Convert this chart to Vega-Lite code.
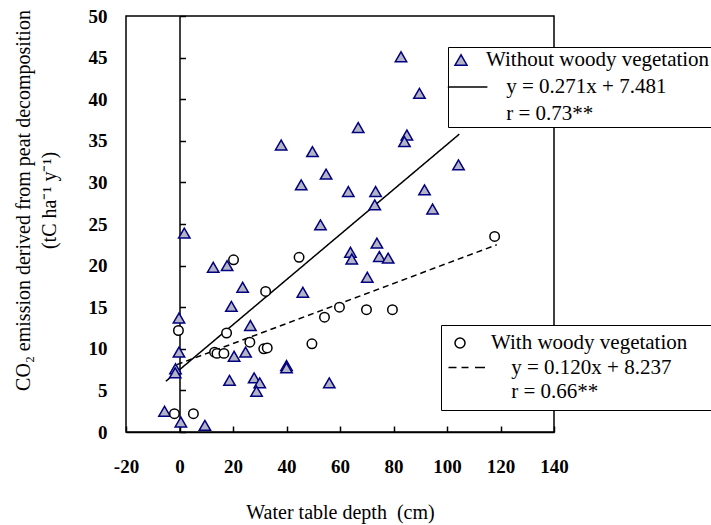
{
  "$schema": "https://vega.github.io/schema/vega-lite/v6.json",
  "width": 428,
  "height": 416,
  "autosize": {"type": "none"},
  "padding": {"left": 126, "top": 16, "right": 157, "bottom": 93},
  "background": "white",
  "config": {
    "font": "Liberation Serif",
    "view": {"stroke": "black", "strokeWidth": 1.5},
    "axis": {
      "grid": false,
      "domainColor": "black",
      "domainWidth": 1.5,
      "tickColor": "black",
      "tickWidth": 1.5,
      "labelFont": "Liberation Serif",
      "labelFontSize": 19,
      "labelFontWeight": "bold",
      "labelColor": "black",
      "titleFont": "Liberation Serif",
      "titleFontSize": 20,
      "titleFontWeight": "normal",
      "titleColor": "black"
    },
    "legend": {
      "labelFont": "Liberation Serif",
      "labelFontSize": 21,
      "labelColor": "black",
      "labelLimit": 600,
      "strokeColor": "black",
      "fillColor": "white",
      "symbolStrokeWidth": 1.5
    }
  },
  "datasets": {
    "fits": [
      {"depth": -5.1, "co2": 6.1, "fit": "without"},
      {"depth": 104.6, "co2": 35.8, "fit": "without"},
      {"depth": -1, "co2": 8.1, "fit": "with"},
      {"depth": 118.6, "co2": 22.5, "fit": "with"}
    ],
    "tri": [
      {"depth": 1.8, "co2": 23.9, "series": "Without woody vegetation"},
      {"depth": 12.6, "co2": 19.8, "series": "Without woody vegetation"},
      {"depth": 17.8, "co2": 20.0, "series": "Without woody vegetation"},
      {"depth": 23.6, "co2": 17.4, "series": "Without woody vegetation"},
      {"depth": 19.4, "co2": 15.1, "series": "Without woody vegetation"},
      {"depth": -0.2, "co2": 13.7, "series": "Without woody vegetation"},
      {"depth": 26.5, "co2": 12.8, "series": "Without woody vegetation"},
      {"depth": -0.2, "co2": 9.6, "series": "Without woody vegetation"},
      {"depth": 24.7, "co2": 9.6, "series": "Without woody vegetation"},
      {"depth": 20.4, "co2": 9.1, "series": "Without woody vegetation"},
      {"depth": -1.5, "co2": 7.6, "series": "Without woody vegetation"},
      {"depth": -1.6, "co2": 7.1, "series": "Without woody vegetation"},
      {"depth": 40.0, "co2": 8.0, "series": "Without woody vegetation"},
      {"depth": 40.0, "co2": 7.7, "series": "Without woody vegetation"},
      {"depth": 18.7, "co2": 6.2, "series": "Without woody vegetation"},
      {"depth": 27.9, "co2": 6.5, "series": "Without woody vegetation"},
      {"depth": 30.0, "co2": 5.9, "series": "Without woody vegetation"},
      {"depth": 28.8, "co2": 4.9, "series": "Without woody vegetation"},
      {"depth": -5.6, "co2": 2.5, "series": "Without woody vegetation"},
      {"depth": 0.5, "co2": 1.2, "series": "Without woody vegetation"},
      {"depth": 9.5, "co2": 0.8, "series": "Without woody vegetation"},
      {"depth": 73.0, "co2": 27.3, "series": "Without woody vegetation"},
      {"depth": 94.6, "co2": 26.8, "series": "Without woody vegetation"},
      {"depth": 52.7, "co2": 24.9, "series": "Without woody vegetation"},
      {"depth": 73.8, "co2": 22.7, "series": "Without woody vegetation"},
      {"depth": 63.9, "co2": 21.6, "series": "Without woody vegetation"},
      {"depth": 64.4, "co2": 20.8, "series": "Without woody vegetation"},
      {"depth": 74.7, "co2": 21.1, "series": "Without woody vegetation"},
      {"depth": 78.0, "co2": 20.9, "series": "Without woody vegetation"},
      {"depth": 70.2, "co2": 18.6, "series": "Without woody vegetation"},
      {"depth": 46.1, "co2": 16.8, "series": "Without woody vegetation"},
      {"depth": 56.0, "co2": 5.9, "series": "Without woody vegetation"},
      {"depth": 82.8, "co2": 45.1, "series": "Without woody vegetation"},
      {"depth": 89.7, "co2": 40.7, "series": "Without woody vegetation"},
      {"depth": 66.8, "co2": 36.6, "series": "Without woody vegetation"},
      {"depth": 85.0, "co2": 35.7, "series": "Without woody vegetation"},
      {"depth": 84.1, "co2": 34.9, "series": "Without woody vegetation"},
      {"depth": 49.7, "co2": 33.7, "series": "Without woody vegetation"},
      {"depth": 54.8, "co2": 31.0, "series": "Without woody vegetation"},
      {"depth": 104.3, "co2": 32.1, "series": "Without woody vegetation"},
      {"depth": 45.5, "co2": 29.7, "series": "Without woody vegetation"},
      {"depth": 63.1, "co2": 28.9, "series": "Without woody vegetation"},
      {"depth": 73.3, "co2": 28.9, "series": "Without woody vegetation"},
      {"depth": 91.6, "co2": 29.1, "series": "Without woody vegetation"},
      {"depth": 38.0, "co2": 34.5, "series": "Without woody vegetation"}
    ],
    "circ": [
      {"depth": 20.2, "co2": 20.7, "series": "With woody vegetation"},
      {"depth": 44.7, "co2": 21.0, "series": "With woody vegetation"},
      {"depth": 32.2, "co2": 16.9, "series": "With woody vegetation"},
      {"depth": -0.4, "co2": 12.2, "series": "With woody vegetation"},
      {"depth": 17.6, "co2": 11.9, "series": "With woody vegetation"},
      {"depth": 26.3, "co2": 10.8, "series": "With woody vegetation"},
      {"depth": 13.1, "co2": 9.6, "series": "With woody vegetation"},
      {"depth": 14.0, "co2": 9.45, "series": "With woody vegetation"},
      {"depth": 16.6, "co2": 9.45, "series": "With woody vegetation"},
      {"depth": 31.5, "co2": 10.0, "series": "With woody vegetation"},
      {"depth": 32.8, "co2": 10.1, "series": "With woody vegetation"},
      {"depth": -1.9, "co2": 2.2, "series": "With woody vegetation"},
      {"depth": 5.2, "co2": 2.2, "series": "With woody vegetation"},
      {"depth": 117.8, "co2": 23.5, "series": "With woody vegetation"},
      {"depth": 54.2, "co2": 13.8, "series": "With woody vegetation"},
      {"depth": 59.8, "co2": 15.0, "series": "With woody vegetation"},
      {"depth": 69.9, "co2": 14.7, "series": "With woody vegetation"},
      {"depth": 79.6, "co2": 14.7, "series": "With woody vegetation"},
      {"depth": 49.5, "co2": 10.6, "series": "With woody vegetation"}
    ]
  },
  "encoding": {
    "x": {
      "field": "depth",
      "type": "quantitative",
      "scale": {"domain": [-20, 140], "nice": false, "zero": false},
      "axis": {
        "values": [-20, 0, 20, 40, 60, 80, 100, 120, 140],
        "labelExpr": "replace(datum.label, '\u2212', '-')",
        "tickSize": -6,
        "labelPadding": 46.7,
        "labelBaseline": "alphabetic",
        "labelFlush": false,
        "labelOverlap": false,
        "title": "Water table depth\u00a0 (cm)",
        "titleX": 214,
        "titleY": 86,
        "titleBaseline": "alphabetic",
        "titleAlign": "center"
      }
    },
    "y": {
      "field": "co2",
      "type": "quantitative",
      "scale": {"domain": [0, 50], "nice": false},
      "axis": {
        "values": [0, 5, 10, 15, 20, 25, 30, 35, 40, 45, 50],
        "offset": -53.5,
        "tickSize": -6,
        "labelPadding": 78.5,
        "labelBaseline": "middle",
        "labelFlush": false,
        "labelOverlap": false,
        "title": ["CO₂ emission derived from peat decomposition", "\u00a0\u00a0\u00a0\u00a0\u00a0\u00a0\u00a0\u00a0\u00a0\u00a0\u00a0\u00a0\u00a0\u00a0\u00a0\u00a0\u00a0\u00a0\u00a0\u00a0\u00a0\u00a0\u00a0\u00a0\u00a0\u00a0\u00a0\u00a0\u00a0\u00a0\u00a0\u00a0\u00a0\u00a0\u00a0\u00a0\u00a0(tC ha⁻¹ y⁻¹)"],
        "titleX": -150,
        "titleY": 184,
        "titleAngle": -90,
        "titleAlign": "center",
        "titleBaseline": "alphabetic",
        "titleLineHeight": 26
      }
    }
  },
  "layer": [
    {
      "data": {"name": "fits"},
      "mark": {"type": "line", "color": "black", "strokeWidth": 1.5},
      "encoding": {
        "detail": {"field": "fit"},
        "strokeDash": {
          "field": "fit",
          "type": "nominal",
          "scale": {"domain": ["without", "with"], "range": [[1, 0], [6, 4]]},
          "legend": null
        }
      }
    },
    {
      "data": {"name": "tri"},
      "mark": {"type": "point", "filled": true, "opacity": 1, "size": 130, "strokeWidth": 1.5},
      "encoding": {
        "shape": {
          "field": "series",
          "type": "nominal",
          "scale": {
            "domain": ["Without woody vegetation", "y = 0.271x + 7.481", "r = 0.73**"],
            "range": ["triangle-up", "M-2.2,0H4.4", "M0,0"]
          },
          "legend": {"title": null, "orient": "none", "legendX": 322, "legendY": 31, "padding": 2.5, "symbolOffset": 0, "labelOffset": 14.5, "rowPadding": 5, "symbolSize": 144, "labelExpr": "datum.value == 'Without woody vegetation' ? datum.label : '\u2800 ' + datum.label"}
        },
        "fill": {
          "field": "series",
          "type": "nominal",
          "scale": {
            "domain": ["Without woody vegetation", "y = 0.271x + 7.481", "r = 0.73**"],
            "range": ["#b4b4c4", "transparent", "transparent"]
          },
          "legend": {"title": null, "orient": "none", "legendX": 322, "legendY": 31, "padding": 2.5, "symbolOffset": 0, "labelOffset": 14.5, "rowPadding": 5, "symbolSize": 144, "labelExpr": "datum.value == 'Without woody vegetation' ? datum.label : '\u2800 ' + datum.label"}
        },
        "stroke": {
          "field": "series",
          "type": "nominal",
          "scale": {
            "domain": ["Without woody vegetation", "y = 0.271x + 7.481", "r = 0.73**"],
            "range": ["#000080", "black", "transparent"]
          },
          "legend": {"title": null, "orient": "none", "legendX": 322, "legendY": 31, "padding": 2.5, "symbolOffset": 0, "labelOffset": 14.5, "rowPadding": 5, "symbolSize": 144, "labelExpr": "datum.value == 'Without woody vegetation' ? datum.label : '\u2800 ' + datum.label"}
        }
      }
    },
    {
      "data": {"name": "circ"},
      "mark": {"type": "point", "filled": true, "opacity": 1, "size": 90, "strokeWidth": 1.5},
      "encoding": {
        "shape": {
          "field": "series",
          "type": "nominal",
          "scale": {
            "domain": ["With woody vegetation", "y = 0.120x + 8.237", "r = 0.66**"],
            "range": ["circle", "M-2.3,0H-0.7M0.3,0H1.7M3,0H5", "M0,0"]
          },
          "legend": {"title": null, "orient": "none", "legendX": 315, "legendY": 309, "padding": 7.5, "symbolOffset": 1, "labelOffset": 20.5, "rowPadding": 2.5, "symbolSize": 100, "labelExpr": "datum.value == 'With woody vegetation' ? datum.label + '\u2800\u2800' : '\u2800 ' + datum.label"}
        },
        "fill": {
          "field": "series",
          "type": "nominal",
          "scale": {
            "domain": ["With woody vegetation", "y = 0.120x + 8.237", "r = 0.66**"],
            "range": ["white", "transparent", "transparent"]
          },
          "legend": {"title": null, "orient": "none", "legendX": 315, "legendY": 309, "padding": 7.5, "symbolOffset": 1, "labelOffset": 20.5, "rowPadding": 2.5, "symbolSize": 100, "labelExpr": "datum.value == 'With woody vegetation' ? datum.label + '\u2800\u2800' : '\u2800 ' + datum.label"}
        },
        "stroke": {
          "field": "series",
          "type": "nominal",
          "scale": {
            "domain": ["With woody vegetation", "y = 0.120x + 8.237", "r = 0.66**"],
            "range": ["black", "black", "transparent"]
          },
          "legend": {"title": null, "orient": "none", "legendX": 315, "legendY": 309, "padding": 7.5, "symbolOffset": 1, "labelOffset": 20.5, "rowPadding": 2.5, "symbolSize": 100, "labelExpr": "datum.value == 'With woody vegetation' ? datum.label + '\u2800\u2800' : '\u2800 ' + datum.label"}
        }
      }
    }
  ],
  "resolve": {"scale": {"shape": "independent", "fill": "independent", "stroke": "independent"}}
}
